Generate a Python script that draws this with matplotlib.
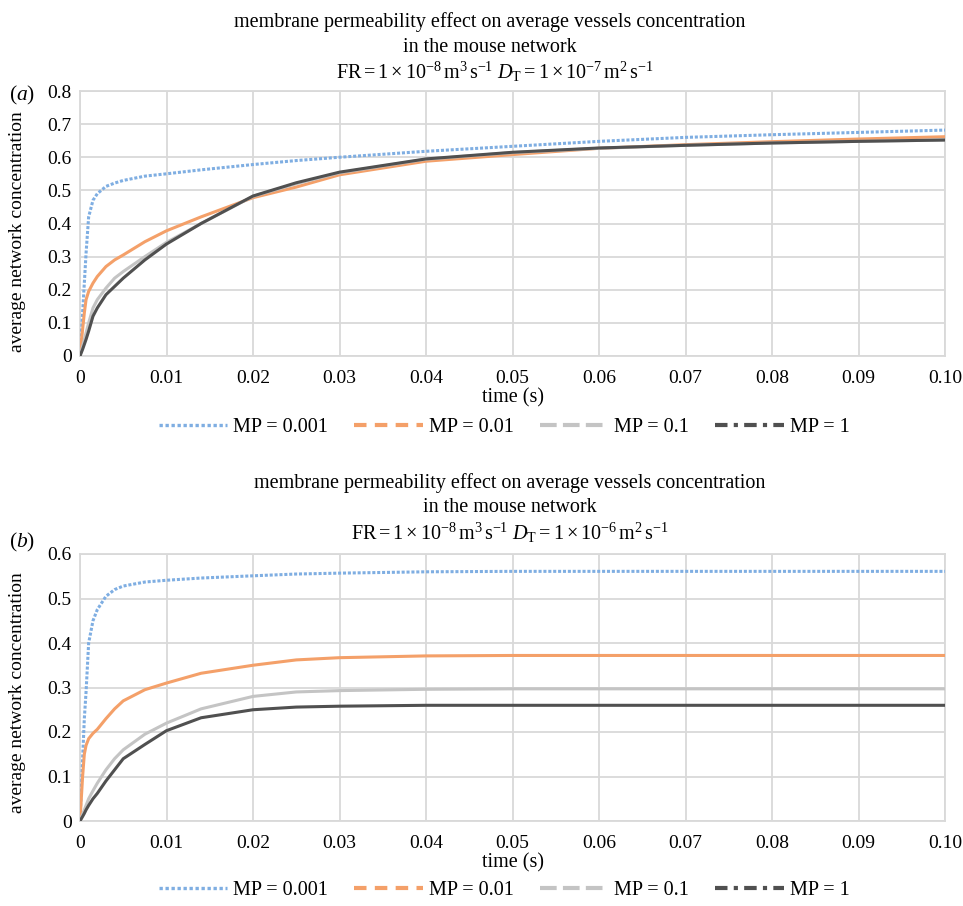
import numpy as np
import matplotlib
matplotlib.use('Agg')
import matplotlib.pyplot as plt
from matplotlib.lines import Line2D

plt.rcParams['font.family'] = ['Liberation Serif', 'DejaVu Serif']
plt.rcParams['mathtext.fontset'] = 'custom'
plt.rcParams['mathtext.rm'] = 'Liberation Serif'
plt.rcParams['mathtext.it'] = 'Liberation Serif:italic'

# time axis (s), shared by both panels
t = [0, 0.0003, 0.0005, 0.0007, 0.001, 0.0015, 0.002, 0.003, 0.004, 0.005, 0.0075, 0.01,
     0.014, 0.02, 0.025, 0.03, 0.04, 0.05, 0.06, 0.07, 0.08, 0.09, 0.1]

# panel (a): D_T = 1e-7
a_mp0001 = [0, 0.13, 0.22, 0.31, 0.42, 0.47, 0.49, 0.512, 0.522, 0.53, 0.543, 0.55,
            0.562, 0.578, 0.59, 0.60, 0.618, 0.633, 0.648, 0.66, 0.668, 0.675, 0.682]
a_mp001 = [0, 0.08, 0.13, 0.17, 0.195, 0.22, 0.24, 0.27, 0.29, 0.305, 0.345, 0.378,
           0.42, 0.478, 0.51, 0.547, 0.588, 0.608, 0.627, 0.638, 0.647, 0.655, 0.662]
a_mp01 = [0, 0.03, 0.05, 0.07, 0.10, 0.145, 0.17, 0.205, 0.235, 0.255, 0.30, 0.343,
          0.40, 0.482, 0.52, 0.553, 0.594, 0.614, 0.627, 0.636, 0.643, 0.648, 0.652]
a_mp1 = [0, 0.02, 0.035, 0.05, 0.075, 0.12, 0.145, 0.185, 0.21, 0.235, 0.29, 0.338,
         0.40, 0.483, 0.523, 0.555, 0.595, 0.615, 0.628, 0.636, 0.643, 0.648, 0.652]

# panel (b): D_T = 1e-6
b_mp0001 = [0, 0.14, 0.23, 0.29, 0.40, 0.45, 0.475, 0.505, 0.52, 0.528, 0.537, 0.541,
            0.546, 0.551, 0.555, 0.557, 0.56, 0.561, 0.561, 0.561, 0.561, 0.561, 0.561]
b_mp001 = [0, 0.10, 0.15, 0.17, 0.185, 0.197, 0.206, 0.23, 0.252, 0.27, 0.295, 0.31,
           0.332, 0.35, 0.362, 0.367, 0.371, 0.372, 0.372, 0.372, 0.372, 0.372, 0.372]
b_mp01 = [0, 0.015, 0.025, 0.035, 0.05, 0.068, 0.085, 0.115, 0.14, 0.16, 0.195, 0.22,
          0.252, 0.28, 0.29, 0.293, 0.296, 0.297, 0.297, 0.297, 0.297, 0.297, 0.297]
b_mp1 = [0, 0.01, 0.017, 0.025, 0.035, 0.05, 0.062, 0.09, 0.115, 0.14, 0.172, 0.203,
         0.232, 0.25, 0.256, 0.258, 0.26, 0.26, 0.26, 0.26, 0.26, 0.26, 0.26]

labels = ['MP = 0.001', 'MP = 0.01', 'MP = 0.1', 'MP = 1']
colors = ['#7FAEE2', '#F4A069', '#C4C4C4', '#505050']
styles = [(0, (1, 0.8)), (0, (3, 2)), (0, (4, 1.5)), (0, (3, 1.5, 1, 1.5))]

xticks = [0, 0.01, 0.02, 0.03, 0.04, 0.05, 0.06, 0.07, 0.08, 0.09, 0.10]
xticklabels = ['0', '0.01', '0.02', '0.03', '0.04', '0.05', '0.06', '0.07', '0.08', '0.09', '0.10']

fs = 14.5
W, H = 963, 906
fig = plt.figure(figsize=(W / 100, H / 100), dpi=100)


def panel(ax, series, ymax, yticks):
    for i, y in enumerate(series):
        ls = (0, (1, 0.6)) if i == 0 else '-'
        ax.plot(t, y, color=colors[i], lw=2.2, ls=ls, zorder=3 + i * 0.1)
    ax.set_xlim(0, 0.1)
    ax.set_ylim(0, ymax)
    ax.set_xticks(xticks)
    ax.set_xticklabels(xticklabels)
    ax.set_yticks(yticks)
    ax.set_yticklabels(['0' if v == 0 else '%g' % v for v in yticks])
    ax.grid(True, color='#D9D9D9', lw=1.3)
    ax.set_axisbelow(True)
    for s in ax.spines.values():
        s.set_color('#D9D9D9')
        s.set_linewidth(1.3)
    ax.tick_params(length=0, labelsize=14, pad=10)
    ax.tick_params(axis='y', pad=6)
    ax.set_xlabel('time (s)', fontsize=fs, labelpad=1)
    ax.set_ylabel('average network concentration', fontsize=14)


def handles():
    return [Line2D([], [], color=colors[i], lw=3 if i else 2.4, ls=styles[i]) for i in range(4)]


# panel (a)
ax1 = fig.add_axes([80 / W, 1 - 356 / H, 865 / W, 265 / H])
panel(ax1, [a_mp0001, a_mp001, a_mp01, a_mp1], 0.8,
      [0, 0.1, 0.2, 0.3, 0.4, 0.5, 0.6, 0.7, 0.8])
ax1.yaxis.set_label_coords(-0.062, 0.47)
fig.text(490 / W, 1 - 22 / H, 'membrane permeability effect on average vessels concentration',
         ha='center', va='center', fontsize=fs)
fig.text(490 / W, 1 - 47 / H, 'in the mouse network', ha='center', va='center', fontsize=fs)
fig.text(495 / W, 1 - 72 / H,
         r'$\mathrm{FR} = 1 \times 10^{-8}\,\mathrm{m}^3\,\mathrm{s}^{-1}\ D_\mathrm{T} = 1 \times 10^{-7}\,\mathrm{m}^2\,\mathrm{s}^{-1}$',
         ha='center', va='center', fontsize=fs)
fig.text(9 / W, 1 - 95 / H, r'$(\mathit{a})$', ha='left', va='center', fontsize=fs + 1)
fig.legend(handles(), labels, loc='center', bbox_to_anchor=(504 / W, 1 - 427 / H), ncol=4,
           frameon=False, fontsize=fs, handlelength=3.4, handletextpad=0.3, columnspacing=1.3)

# panel (b)
ax2 = fig.add_axes([80 / W, 1 - 821 / H, 865 / W, 267 / H])
panel(ax2, [b_mp0001, b_mp001, b_mp01, b_mp1], 0.6,
      [0, 0.1, 0.2, 0.3, 0.4, 0.5, 0.6])
ax2.yaxis.set_label_coords(-0.062, 0.48)
fig.text(510 / W, 1 - 483 / H, 'membrane permeability effect on average vessels concentration',
         ha='center', va='center', fontsize=fs)
fig.text(510 / W, 1 - 508 / H, 'in the mouse network', ha='center', va='center', fontsize=fs)
fig.text(510 / W, 1 - 533 / H,
         r'$\mathrm{FR} = 1 \times 10^{-8}\,\mathrm{m}^3\,\mathrm{s}^{-1}\ D_\mathrm{T} = 1 \times 10^{-6}\,\mathrm{m}^2\,\mathrm{s}^{-1}$',
         ha='center', va='center', fontsize=fs)
fig.text(9 / W, 1 - 542 / H, r'$(\mathit{b})$', ha='left', va='center', fontsize=fs + 1)
fig.legend(handles(), labels, loc='center', bbox_to_anchor=(504 / W, 1 - 890 / H), ncol=4,
           frameon=False, fontsize=fs, handlelength=3.4, handletextpad=0.3, columnspacing=1.3)

fig.savefig('out.png', dpi=100)
